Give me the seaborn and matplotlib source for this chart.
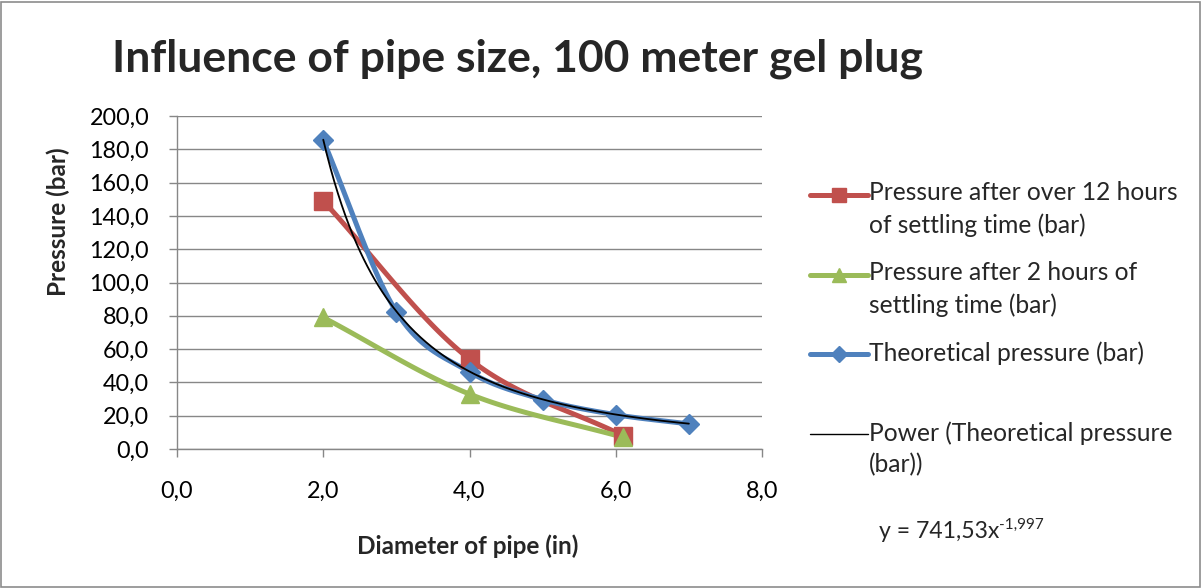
import numpy as np
import pandas as pd
import matplotlib
matplotlib.use("Agg")
import matplotlib.pyplot as plt
import seaborn as sns
from matplotlib.lines import Line2D
from matplotlib.patches import Rectangle
from matplotlib.legend_handler import HandlerLine2D

# ---- data ----
x_12h = [2.0, 4.0, 6.1]
y_12h = [149.0, 54.0, 8.0]
x_2h = [2.0, 4.0, 6.1]
y_2h = [79.0, 33.0, 7.0]
x_theo = [2.0, 3.0, 4.0, 5.0, 6.0, 7.0]
y_theo = [185.4, 82.4, 46.3, 29.7, 20.6, 15.1]
power_a = 741.53
power_b = -1.997
label_12h = "Pressure after over 12 hours\nof settling time (bar)"
label_2h = "Pressure after 2 hours of\nsettling time (bar)"
label_theo = "Theoretical pressure (bar)\n "
label_power = "Power (Theoretical pressure\n(bar))"
title = "Influence of pipe size, 100 meter gel plug"
xlabel = "Diameter of pipe (in)"
ylabel = "Pressure (bar)"
eq_base = "y = 741,53x"
eq_exp = "-1,997"
x_ticks = [0, 2, 4, 6, 8]
y_ticks = list(range(0, 201, 20))

sns.set_style("white")
FONT = "Lato"
plt.rcParams['font.family'] = [FONT, 'DejaVu Sans']

RED = "#C0504D"
GREEN = "#9BBB59"
BLUE = "#4F81BD"
GRID = "#878787"


def smooth(xs, ys, n=40):
    """Catmull-Rom style smoothing through the given points (drawing only)."""
    xs = np.asarray(xs, float)
    ys = np.asarray(ys, float)
    P = np.column_stack([xs, ys])
    P = np.vstack([P[0] - (P[1] - P[0]), P, P[-1] + (P[-1] - P[-2])])
    out = []
    for i in range(1, len(P) - 2):
        p0, p1, p2, p3 = P[i - 1], P[i], P[i + 1], P[i + 2]
        t = np.linspace(0, 1, n)[:, None]
        c1 = p1 + (p2 - p0) / 6.0
        c2 = p2 - (p3 - p1) / 6.0
        seg = ((1 - t) ** 3) * p1 + 3 * ((1 - t) ** 2) * t * c1 + 3 * (1 - t) * t ** 2 * c2 + t ** 3 * p2
        out.append(seg if i == 1 else seg[1:])
    S = np.vstack(out)
    return S[:, 0], S[:, 1]


class UpHandler(HandlerLine2D):
    def __init__(self, dy, **kw):
        super().__init__(**kw)
        self.dy = dy

    def create_artists(self, legend, orig_handle, xdescent, ydescent, width, height, fontsize, trans):
        return super().create_artists(legend, orig_handle, xdescent, ydescent - self.dy,
                                      width, height, fontsize, trans)


fig = plt.figure(figsize=(12.02, 5.88), dpi=100)
ax = fig.add_axes([177 / 1202, 1 - 449 / 588, (762 - 177) / 1202, (449 - 116) / 588])

series = [
    (x_12h, y_12h, RED, "s", 13),
    (x_2h, y_2h, GREEN, "^", 13),
    (x_theo, y_theo, BLUE, "D", 10),
]
for xs, ys, col, mk, ms in series:
    sx, sy = smooth(xs, ys)
    df = pd.DataFrame({"x": sx, "y": sy})
    sns.lineplot(data=df, x="x", y="y", ax=ax, color=col, lw=3.6, sort=False,
                 estimator=None, zorder=3, solid_capstyle="round")
    ax.plot(xs, ys, linestyle="none", marker=mk, markersize=ms, color=col,
            markeredgecolor=col, zorder=4)

# power trendline
tx = np.linspace(min(x_theo), max(x_theo), 200)
ty = power_a * tx ** power_b
sns.lineplot(x=tx, y=ty, ax=ax, color="black", lw=1.3, zorder=5, estimator=None, sort=False)

ax.set_xlim(0, 8)
ax.set_ylim(0, 200)
ax.set_xticks(x_ticks)
ax.set_yticks(y_ticks)
ax.set_xticklabels([f"{v:.1f}".replace(".", ",") for v in x_ticks], fontsize=16.8)
ax.set_yticklabels([f"{v:.1f}".replace(".", ",") for v in y_ticks], fontsize=16.8)
ax.yaxis.grid(True, color=GRID, lw=1.0)
ax.xaxis.grid(False)
for s in ["top", "right"]:
    ax.spines[s].set_visible(False)
for s in ["left", "bottom"]:
    ax.spines[s].set_color(GRID)
    ax.spines[s].set_linewidth(1.0)
ax.tick_params(axis="both", direction="out", length=6, width=1.0, color=GRID,
               labelcolor="black", bottom=True, left=True)
ax.tick_params(axis="y", pad=14)
ax.tick_params(axis="x", pad=17)
ax.set_xlabel(xlabel, fontsize=17.5, fontweight="bold")
ax.set_ylabel(ylabel, fontsize=17.5, fontweight="bold")
ax.xaxis.set_label_coords((468 - 177) / 585, (449 - 546) / 333)
ax.yaxis.set_label_coords((58 - 177) / 585, (449 - 222) / 333)
ax.xaxis.label.set_va("center")
ax.yaxis.label.set_va("center")

fig.text(112 / 1202, 1 - 59 / 588, title, fontsize=32, fontweight="bold",
         ha="left", va="center")

handles = [
    Line2D([], [], color=RED, lw=3.6, marker="s", markersize=10, solid_capstyle="round"),
    Line2D([], [], color=GREEN, lw=3.6, marker="^", markersize=10, solid_capstyle="round"),
    Line2D([], [], color=BLUE, lw=3.6, marker="D", markersize=8, solid_capstyle="round"),
    Line2D([], [], color="black", lw=1.0),
]
labels = [label_12h, label_2h, label_theo, label_power]
hmap = {h: UpHandler(22) for h in handles}
leg = fig.legend(handles, labels, loc="upper left", bbox_to_anchor=(798 / 1202, 1 - 169 / 588),
                 frameon=False, fontsize=17.7, handlelength=2.35, handletextpad=0.05,
                 labelspacing=1.0, borderpad=0, handler_map=hmap)
for t in leg.get_texts():
    t.set_linespacing(1.45)

t_eq = fig.text(879 / 1202, 1 - 531 / 588, eq_base, fontsize=16.6, ha="left", va="center")
fig.canvas.draw()
bb = t_eq.get_window_extent()
fig.text(bb.x1 / fig.bbox.width, (bb.y1 - 4) / fig.bbox.height, eq_exp, fontsize=11,
         ha="left", va="center")

fig.add_artist(Rectangle((1 / 1202, 1 / 588), 1199 / 1202, 585 / 588, transform=fig.transFigure,
                         fill=False, edgecolor="#8C8C8C", lw=1.2))

fig.savefig("out.png", dpi=100)
